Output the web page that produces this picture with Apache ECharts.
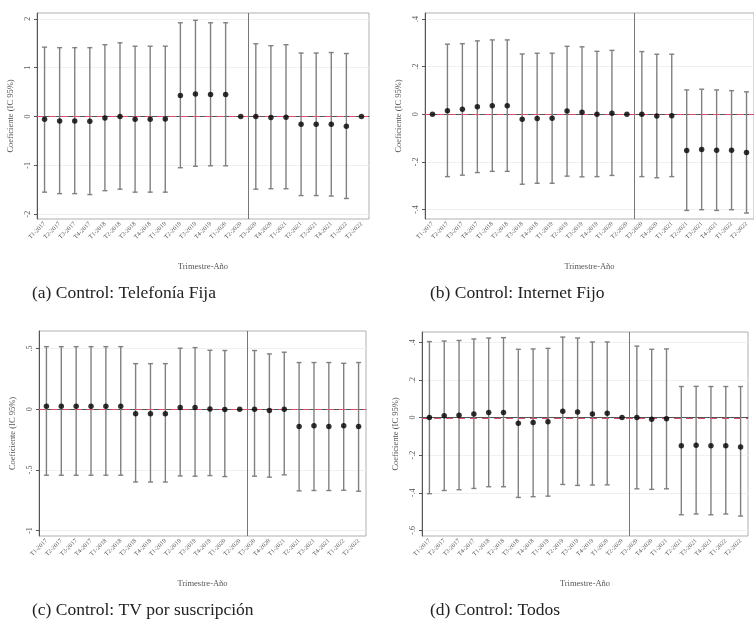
<!DOCTYPE html>
<html><head><meta charset="utf-8">
<script src="https://cdn.jsdelivr.net/npm/echarts@6/dist/echarts.min.js"></script>
<style>html,body{margin:0;padding:0;background:#fff}#c{width:754px;height:632px}</style>
</head><body><div id="c"></div>
<script>
const categories = ['T1-2017','T2-2017','T3-2017','T4-2017','T1-2018','T2-2018','T3-2018','T4-2018','T1-2019','T2-2019','T3-2019','T4-2019','T1-2020','T2-2020','T3-2020','T4-2020','T1-2021','T2-2021','T3-2021','T4-2021','T1-2022','T2-2022'];
const breakAfter = 'T2-2020';
const refValue = 0;

const estA  = [-0.055,-0.09,-0.09,-0.10,-0.03,0.0,-0.055,-0.055,-0.05,0.43,0.46,0.45,0.45,0,0,-0.02,-0.015,-0.16,-0.16,-0.16,-0.2,0];
const lowA  = [-1.55,-1.58,-1.58,-1.60,-1.52,-1.49,-1.55,-1.55,-1.55,-1.05,-1.02,-1.01,-1.01,null,-1.49,-1.48,-1.48,-1.62,-1.62,-1.63,-1.68,null];
const highA = [1.42,1.41,1.41,1.41,1.47,1.51,1.44,1.44,1.44,1.92,1.97,1.92,1.92,null,1.49,1.45,1.47,1.30,1.30,1.31,1.29,null];

const estB  = [0,0.015,0.021,0.031,0.036,0.036,-0.021,-0.018,-0.017,0.013,0.008,0.0,0.004,0,0,-0.008,-0.006,-0.152,-0.148,-0.151,-0.151,-0.161];
const lowB  = [null,-0.262,-0.256,-0.245,-0.24,-0.24,-0.294,-0.29,-0.29,-0.26,-0.263,-0.262,-0.257,null,-0.262,-0.267,-0.262,-0.404,-0.401,-0.404,-0.401,-0.415];
const highB = [null,0.294,0.296,0.308,0.312,0.312,0.253,0.256,0.256,0.285,0.283,0.264,0.268,null,0.263,0.252,0.252,0.102,0.105,0.102,0.099,0.094];

const estC  = [0.025,0.025,0.025,0.025,0.025,0.025,-0.038,-0.038,-0.038,0.014,0.014,0.003,-0.003,0,0,-0.011,0,-0.143,-0.137,-0.143,-0.137,-0.143];
const lowC  = [-0.544,-0.544,-0.544,-0.544,-0.544,-0.544,-0.60,-0.60,-0.60,-0.55,-0.552,-0.547,-0.555,null,-0.552,-0.56,-0.541,-0.673,-0.67,-0.67,-0.668,-0.676];
const highC = [0.516,0.516,0.516,0.516,0.516,0.516,0.376,0.376,0.376,0.503,0.508,0.486,0.484,null,0.484,0.456,0.47,0.385,0.385,0.385,0.379,0.385];

const estD  = [0,0.009,0.012,0.019,0.027,0.027,-0.03,-0.027,-0.023,0.034,0.03,0.019,0.023,0,0,-0.009,-0.007,-0.15,-0.147,-0.15,-0.15,-0.156];
const lowD  = [-0.405,-0.388,-0.384,-0.377,-0.368,-0.368,-0.425,-0.421,-0.418,-0.356,-0.361,-0.359,-0.358,null,-0.379,-0.382,-0.379,-0.517,-0.513,-0.517,-0.513,-0.524];
const highD = [0.404,0.407,0.41,0.418,0.423,0.425,0.363,0.365,0.368,0.428,0.423,0.402,0.402,null,0.38,0.363,0.365,0.165,0.166,0.165,0.165,0.165];

const yTicksA = [-2,-1,0,1,2];          const yLabelsA = ['-2','-1','0','1','2'];
const yTicksB = [-0.4,-0.2,0,0.2,0.4];  const yLabelsB = ['-.4','-.2','0','.2','.4'];
const yTicksC = [-1,-0.5,0,0.5];        const yLabelsC = ['-1','-.5','0','.5'];
const yTicksD = [-0.6,-0.4,-0.2,0,0.2,0.4]; const yLabelsD = ['-.6','-.4','-.2','0','.2','.4'];

const captions = ['(a) Control: Telefonía Fija','(b) Control: Internet Fijo','(c) Control: TV por suscripción','(d) Control: Todos'];
const yTitle = 'Coeficiente (IC 95%)';
const xTitle = 'Trimestre-Año';

const panels = [
  {est: estA, low: lowA, high: highA, ticks: yTicksA, labels: yLabelsA, min: -2.1, max: 2.12,
   grid: {left: 37, top: 13, width: 332, height: 206}, cap: {left: 32, top: 284}},
  {est: estB, low: lowB, high: highB, ticks: yTicksB, labels: yLabelsB, min: -0.44, max: 0.425,
   grid: {left: 425, top: 13, width: 331, height: 206}, cap: {left: 430, top: 284}},
  {est: estC, low: lowC, high: highC, ticks: yTicksC, labels: yLabelsC, min: -1.045, max: 0.645,
   grid: {left: 39, top: 331, width: 327, height: 205}, cap: {left: 32, top: 601}},
  {est: estD, low: lowD, high: highD, ticks: yTicksD, labels: yLabelsD, min: -0.63, max: 0.455,
   grid: {left: 422, top: 332, width: 326, height: 204}, cap: {left: 430, top: 601}}
];

const SERIF = '"Liberation Serif", "DejaVu Serif", serif';
const grids = [], xAxes = [], yAxes = [], series = [], titles = [];
const breakIdx = categories.indexOf(breakAfter);

panels.forEach((p, i) => {
  grids.push(Object.assign({show: true, borderColor: '#b0b0b0', borderWidth: 1, backgroundColor: '#fff'}, p.grid));
  xAxes.push({
    type: 'category', gridIndex: i, data: categories, boundaryGap: true,
    name: xTitle, nameLocation: 'middle', nameGap: 43,
    nameTextStyle: {fontFamily: SERIF, fontSize: 8.5, color: '#555'},
    axisLine: {lineStyle: {color: '#555', width: 1}},
    axisTick: {alignWithLabel: true, length: 3, lineStyle: {color: '#555'}},
    axisLabel: {rotate: 45, fontSize: 6.2, fontFamily: SERIF, color: '#555', margin: 4, interval: 0},
    splitLine: {show: false}
  });
  yAxes.push({
    type: 'value', gridIndex: i, min: p.min, max: p.max,
    name: yTitle, nameLocation: 'middle', nameGap: 22, nameRotate: 90,
    nameTextStyle: {fontFamily: SERIF, fontSize: 8.5, color: '#555'},
    axisLine: {show: true, lineStyle: {color: '#555', width: 1}},
    axisTick: {show: true, length: 3, customValues: p.ticks, lineStyle: {color: '#555'}},
    axisLabel: {rotate: 90, fontSize: 8, fontFamily: SERIF, color: '#555', margin: 5,
      customValues: p.ticks,
      formatter: v => { const k = p.ticks.findIndex(t => Math.abs(t - v) < 1e-9); return k >= 0 ? p.labels[k] : ''; }},
    splitLine: {show: true, lineStyle: {color: '#f0f0f0', width: 1}}
  });
  // error bars
  series.push({
    type: 'custom', xAxisIndex: i, yAxisIndex: i, silent: true, z: 2,
    data: categories.map((c, k) => [k, p.low[k], p.high[k]]),
    renderItem: (params, api) => {
      const lo = api.value(1), hi = api.value(2);
      if (lo === null || hi === null || isNaN(lo) || isNaN(hi)) return null;
      const a = api.coord([api.value(0), hi]);
      const b = api.coord([api.value(0), lo]);
      const w = 2.5;
      const st = {stroke: '#808080', lineWidth: 1.4};
      return {type: 'group', children: [
        {type: 'line', shape: {x1: a[0], y1: a[1], x2: b[0], y2: b[1]}, style: st},
        {type: 'line', shape: {x1: a[0]-w, y1: a[1], x2: a[0]+w, y2: a[1]}, style: st},
        {type: 'line', shape: {x1: b[0]-w, y1: b[1], x2: b[0]+w, y2: b[1]}, style: st}
      ]};
    }
  });
  // vertical break line
  series.push({
    type: 'custom', xAxisIndex: i, yAxisIndex: i, silent: true, z: 1,
    data: [[breakIdx, p.max]],
    renderItem: (params, api) => {
      const a = api.coord([api.value(0), api.value(1)]);
      const b = api.coord([api.value(0) + 1, api.value(1)]);
      const x = Math.round((a[0] + b[0]) / 2) + 0.5;
      const cs = params.coordSys;
      return {type: 'line', shape: {x1: x, y1: cs.y, x2: x, y2: cs.y + cs.height},
        style: {stroke: '#777', lineWidth: 1}};
    }
  });
  // dashed zero reference line
  series.push({
    type: 'custom', xAxisIndex: i, yAxisIndex: i, silent: true, z: 3,
    data: [[0, refValue]],
    renderItem: (params, api) => {
      const a = api.coord([api.value(0), api.value(1)]);
      const cs = params.coordSys;
      const y = Math.round(a[1]) + 0.5;
      return {type: 'line', shape: {x1: cs.x, y1: y, x2: cs.x + cs.width, y2: y},
        style: {stroke: '#d4506c', lineWidth: 1.2, lineDash: [7, 5]}};
    }
  });
  // points
  series.push({
    type: 'scatter', xAxisIndex: i, yAxisIndex: i, silent: true, z: 4,
    data: p.est, symbol: 'circle', symbolSize: 5.5,
    itemStyle: {color: '#000'}
  });
  titles.push({text: captions[i], left: p.cap.left, top: p.cap.top, padding: 0,
    textStyle: {fontFamily: SERIF, fontSize: 17.5, fontWeight: 'normal', color: '#222'}});
});

const chart = echarts.init(document.getElementById('c'), null, {renderer: 'canvas'});
chart.setOption({
  animation: false, backgroundColor: '#fff',
  title: titles, grid: grids, xAxis: xAxes, yAxis: yAxes, series: series
});
</script></body></html>
